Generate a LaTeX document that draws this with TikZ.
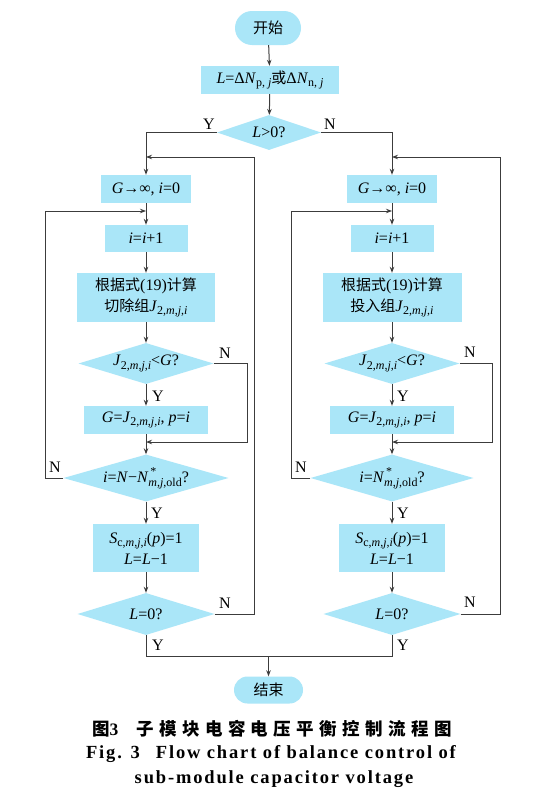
\documentclass[tikz,border=0pt]{standalone}
\usepackage{fontspec}
\setmainfont{Liberation Serif}
\newfontfamily\cjk{Noto Sans CJK SC}
\newfontfamily\capcjk[LetterSpace=31]{Noto Sans CJK SC}
\newfontfamily\capfont[LetterSpace=10]{Liberation Serif}
\usetikzlibrary{shapes.geometric,arrows.meta,calc}
\definecolor{boxc}{RGB}{170,230,248}
\definecolor{linec}{RGB}{60,60,60}
\newcommand\lat{\fontsize{16}{21}\selectfont}
\newcommand\zh[1]{{\cjk\fontsize{15}{21}\selectfont #1}}
\newcommand\sbs[1]{\raisebox{-3.2pt}{\fontsize{12}{12}\selectfont #1}}
\newcommand\Jsub{\textit{J}\sbs{2,\textit{m},\textit{j},\textit{i}}}
\newcommand\Nstar{\textit{N}\raisebox{-3.2pt}{\fontsize{12}{9}\selectfont\begin{tabular}[b]{@{}l@{}}\hspace{2pt}*\\[0pt]\textit{m},\textit{j},old\end{tabular}}}
\begin{document}
\begin{tikzpicture}[x=1pt,y=-1pt,
  box/.style={rectangle, fill=boxc, inner sep=0pt, font=\lat, align=center},
  term/.style={box},
  dec/.style={diamond, fill=boxc, inner sep=0pt, font=\lat},
  line/.style={draw=linec, line width=1pt},
  arr/.style={line, -{Stealth[length=6pt,width=4.5pt]}},
  lab/.style={font=\lat, inner sep=0pt}]
\useasboundingbox[fill=white] (0,0) rectangle (546,803);

% top
\node[term, rounded corners=17pt, minimum width=66pt, minimum height=34pt] (start) at (268,28) {\zh{开始}};
\node[box, minimum width=138pt, minimum height=28pt] (lbox) at (270,80)
  {\textit{L}=Δ\textit{N}\sbs{p, \textit{j}}\zh{或}Δ\textit{N}\sbs{n, \textit{j}}};
\node[dec, minimum width=104pt, minimum height=35pt] (d0) at (269,132.5) {\makebox[0pt]{\textit{L}>0?}};

% left column
\node[box, minimum width=90pt, minimum height=28pt] (GL) at (146,189) {\textit{G}→∞, \textit{i}=0};
\node[box, minimum width=83pt, minimum height=27pt] (IL) at (146,238.5) {\textit{i}=\textit{i}+1};
\node[box, minimum width=138pt, minimum height=49pt] (CL) at (146,297.5)
  {\zh{根据式}(19)\zh{计算}\\\zh{切除组}\Jsub};
\node[dec, minimum width=135pt, minimum height=41pt] (JL) at (146,363.5) {\makebox[0pt]{\Jsub<\textit{G}?}};
\node[box, minimum width=124pt, minimum height=28pt] (GJL) at (146,420) {\textit{G}=\Jsub, \textit{p}=\textit{i}};
\node[dec, minimum width=165pt, minimum height=47pt] (KL) at (146,478)
  {\makebox[0pt]{\textit{i}=\textit{N}−\Nstar?}};
\node[box, minimum width=106pt, minimum height=48pt] (SL) at (146,548)
  {\textit{S}\sbs{c,\textit{m},\textit{j},\textit{i}}(\textit{p})=1\\\textit{L}=\textit{L}−1};
\node[dec, minimum width=137pt, minimum height=42pt] (ZL) at (146,614) {\makebox[0pt]{\textit{L}=0?}};

% right column
\node[box, minimum width=90pt, minimum height=28pt] (GR) at (392,189) {\textit{G}→∞, \textit{i}=0};
\node[box, minimum width=83pt, minimum height=27pt] (IR) at (392,238.5) {\textit{i}=\textit{i}+1};
\node[box, minimum width=139pt, minimum height=49pt] (CR) at (392,297.5)
  {\zh{根据式}(19)\zh{计算}\\\zh{投入组}\Jsub};
\node[dec, minimum width=135pt, minimum height=41pt] (JR) at (392,363.5) {\makebox[0pt]{\Jsub<\textit{G}?}};
\node[box, minimum width=124pt, minimum height=28pt] (GJR) at (392,420) {\textit{G}=\Jsub, \textit{p}=\textit{i}};
\node[dec, minimum width=163pt, minimum height=47pt] (KR) at (392,478)
  {\makebox[0pt]{\textit{i}=\Nstar?}};
\node[box, minimum width=106pt, minimum height=48pt] (SR) at (392,548)
  {\textit{S}\sbs{c,\textit{m},\textit{j},\textit{i}}(\textit{p})=1\\\textit{L}=\textit{L}−1};
\node[dec, minimum width=137pt, minimum height=42pt] (ZR) at (392,614) {\makebox[0pt]{\textit{L}=0?}};

\node[term, rounded corners=13.5pt, minimum width=69pt, minimum height=27pt] (end) at (268.5,690) {\zh{结束}};

% coordinates
\coordinate (tL) at (146,157);
\coordinate (mL) at (146,211);
\coordinate (jL) at (146,442);
\coordinate (tR) at (392,157);
\coordinate (mR) at (392,211);
\coordinate (jR) at (392,442);
\coordinate (bL) at (146,656);
\coordinate (bR) at (392,656);
\coordinate (bot) at (268.5,656);

% connectors
\draw[arr] (start) -- (lbox);
\draw[arr] (lbox) -- (d0);
\draw[arr] (d0.west) -| (GL);
\draw[arr] (d0.east) -| (GR);

\foreach \s in {L,R}{
  \draw[arr] (G\s) -- (I\s);
  \draw[arr] (I\s) -- (C\s);
  \draw[arr] (C\s) -- (J\s);
  \draw[arr] (J\s) -- (GJ\s);
  \draw[arr] (GJ\s) -- (K\s);
  \draw[arr] (K\s) -- (S\s);
  \draw[arr] (S\s) -- (Z\s);
}
\draw[arr] (JL.east) -- ++(33.5,0) |- (jL);
\draw[arr] (KL.west) -- ++(-18,0) |- (mL);
\draw[arr] (ZL.east) -- ++(39.5,0) |- (tL);
\draw[arr] (JR.east) -- ++(32.5,0) |- (jR);
\draw[arr] (KR.west) -- ++(-18.5,0) |- (mR);
\draw[arr] (ZR.east) -- ++(39.5,0) |- (tR);
\draw[line] (ZL.south) -- (bL) -- (bR) -- (ZR.south);
\draw[arr] (bot) -- (end);

% labels
\node[lab] (y0) at (209,124) {Y};
\node[lab] (n0) at (330,124) {N};
\node[lab] (nJL) at (225,353) {N};
\node[lab] (yJL) at (158,396) {Y};
\node[lab] (nKL) at (55,467) {N};
\node[lab] (yKL) at (157,513) {Y};
\node[lab] (nZL) at (225,603) {N};
\node[lab] (yZL) at (158,645) {Y};
\node[lab] (nJR) at (470,352) {N};
\node[lab] (yJR) at (403,396) {Y};
\node[lab] (nKR) at (301,467) {N};
\node[lab] (yKR) at (403,513) {Y};
\node[lab] (nZR) at (470,602) {N};
\node[lab] (yZR) at (403,645) {Y};

% caption
\node[inner sep=0pt] (cap1) at (272,729)
  {\capcjk\bfseries\fontsize{17.5}{20}\selectfont 图{\capfont 3}\hspace{18pt}子模块电容电压平衡控制流程图};
\node[inner sep=0pt] (cap2) at (271,754)
  {\capfont\bfseries\fontsize{18.5}{20}\selectfont Fig. 3\hspace{16pt}Flow chart of balance control of};
\node[inner sep=0pt] (cap3) at (274,779)
  {\capfont\bfseries\fontsize{18.5}{20}\selectfont sub-module capacitor voltage};
\end{tikzpicture}
\end{document}
